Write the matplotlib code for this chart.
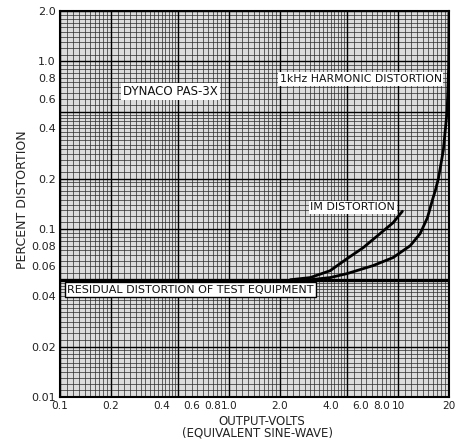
import numpy as np
import matplotlib
matplotlib.use("Agg")
import matplotlib.pyplot as plt
from matplotlib.ticker import FixedLocator, NullFormatter

# Data
harm_volts = [3.0, 3.96, 4.99, 7.11, 9.34, 11.8, 13.5, 14.9, 16.1, 16.6, 17.3, 18.5, 19.5, 19.9, 20.0]
harm_pct = [0.05, 0.0515, 0.0544, 0.0607, 0.0678, 0.0798, 0.0942, 0.117, 0.154, 0.17, 0.2, 0.294, 0.508, 0.916, 1.95]
im_volts = [2.3, 3.02, 3.96, 4.99, 6.21, 7.82, 9.34, 10.6]
im_pct = [0.05, 0.0515, 0.0566, 0.0668, 0.0776, 0.0942, 0.1094, 0.128]
resid_volts = [0.1, 20.0]
resid_pct = [0.05, 0.05]

x_ticks = [0.1, 0.2, 0.4, 0.6, 0.8, 1.0, 2.0, 4.0, 6.0, 8.0, 10, 20]
x_labels = ["0.1", "0.2", "0.4", "0.6", "0.8", "1.0", "2.0", "4.0", "6.0", "8.0", "10", "20"]
y_ticks = [0.01, 0.02, 0.04, 0.06, 0.08, 0.1, 0.2, 0.4, 0.6, 0.8, 1.0, 2.0]
y_labels = ["0.01", "0.02", "0.04", "0.06", "0.08", "0.1", "0.2", "0.4", "0.6", "0.8", "1.0", "2.0"]

fig = plt.figure(figsize=(4.7, 4.4), dpi=100)
ax = fig.add_axes([60/470, 1-397/440, 389/470, 386/440])
ax.set_facecolor("#dcdcdc")
ax.set_xscale("log")
ax.set_yscale("log")
ax.set_xlim(0.1, 20)
ax.set_ylim(0.01, 2.0)

# dense graph-paper grid
def paper_lines(lo_exp, hi_exp):
    vals = []
    for e in range(lo_exp, hi_exp):
        base = 10.0 ** e
        for m in np.arange(1.0, 2.0, 0.1):
            vals.append(m * base)
        for m in np.arange(2.0, 5.0, 0.2):
            vals.append(m * base)
        for m in np.arange(5.0, 10.0, 0.5):
            vals.append(m * base)
    return vals

for v in paper_lines(-1, 2):
    if 0.1 <= v <= 20:
        ax.axvline(v, color="#2a2a2a", lw=0.5, zorder=1)
for v in paper_lines(-2, 1):
    if 0.01 <= v <= 2.0:
        ax.axhline(v, color="#2a2a2a", lw=0.5, zorder=1)
for v in [0.1, 0.2, 0.5, 1, 2, 5, 10, 20]:
    ax.axvline(v, color="black", lw=1.0, zorder=1)
for v in [0.01, 0.02, 0.05, 0.1, 0.2, 0.5, 1, 2]:
    ax.axhline(v, color="black", lw=1.0, zorder=1)

ax.plot(resid_volts, resid_pct, color="black", lw=2.4, zorder=3)
ax.plot(harm_volts, harm_pct, color="black", lw=2.0, zorder=3,
        solid_joinstyle="round", solid_capstyle="round")
ax.plot(im_volts, im_pct, color="black", lw=2.0, zorder=3,
        solid_joinstyle="round", solid_capstyle="round")

ax.xaxis.set_major_locator(FixedLocator(x_ticks))
ax.set_xticklabels(x_labels)
ax.xaxis.set_minor_formatter(NullFormatter())
ax.xaxis.set_minor_locator(FixedLocator([]))
ax.yaxis.set_major_locator(FixedLocator(y_ticks))
ax.set_yticklabels(y_labels)
ax.yaxis.set_minor_formatter(NullFormatter())
ax.yaxis.set_minor_locator(FixedLocator([]))
ax.tick_params(length=0, labelsize=8, pad=3, colors="#222222")
ax.tick_params(axis="x", labelsize=7.6)
for s in ax.spines.values():
    s.set_linewidth(1.5)

fig.text(262/470, 1-421/440, "OUTPUT-VOLTS", fontsize=8.5, color="#222222",
         ha="center", va="center")
fig.text(258/470, 1-433/440, "(EQUIVALENT SINE-WAVE)", fontsize=8.5, color="#222222",
         ha="center", va="center")
fig.text(23/470, 1-200/440, "PERCENT DISTORTION", fontsize=9, color="#222222",
         ha="center", va="center", rotation=90)

box = dict(boxstyle="square,pad=0.15", fc="white", ec="none")
ax.text(0.45, 0.66, "DYNACO PAS-3X", fontsize=8.5, ha="center", va="center",
        bbox=box, zorder=4, color="#111111")
ax.text(6.0, 0.786, "1kHz HARMONIC DISTORTION", fontsize=7.8, ha="center", va="center",
        bbox=box, zorder=4, color="#111111")
ax.text(5.4, 0.135, "IM DISTORTION", fontsize=8, ha="center", va="center",
        bbox=box, zorder=4, color="#111111")
ax.text(0.59, 0.0437, "RESIDUAL DISTORTION OF TEST EQUIPMENT", fontsize=8, ha="center",
        va="center", bbox=dict(boxstyle="square,pad=0.2", fc="white", ec="black", lw=1.0),
        zorder=4, color="#111111")

fig.savefig("out.png", dpi=100)
